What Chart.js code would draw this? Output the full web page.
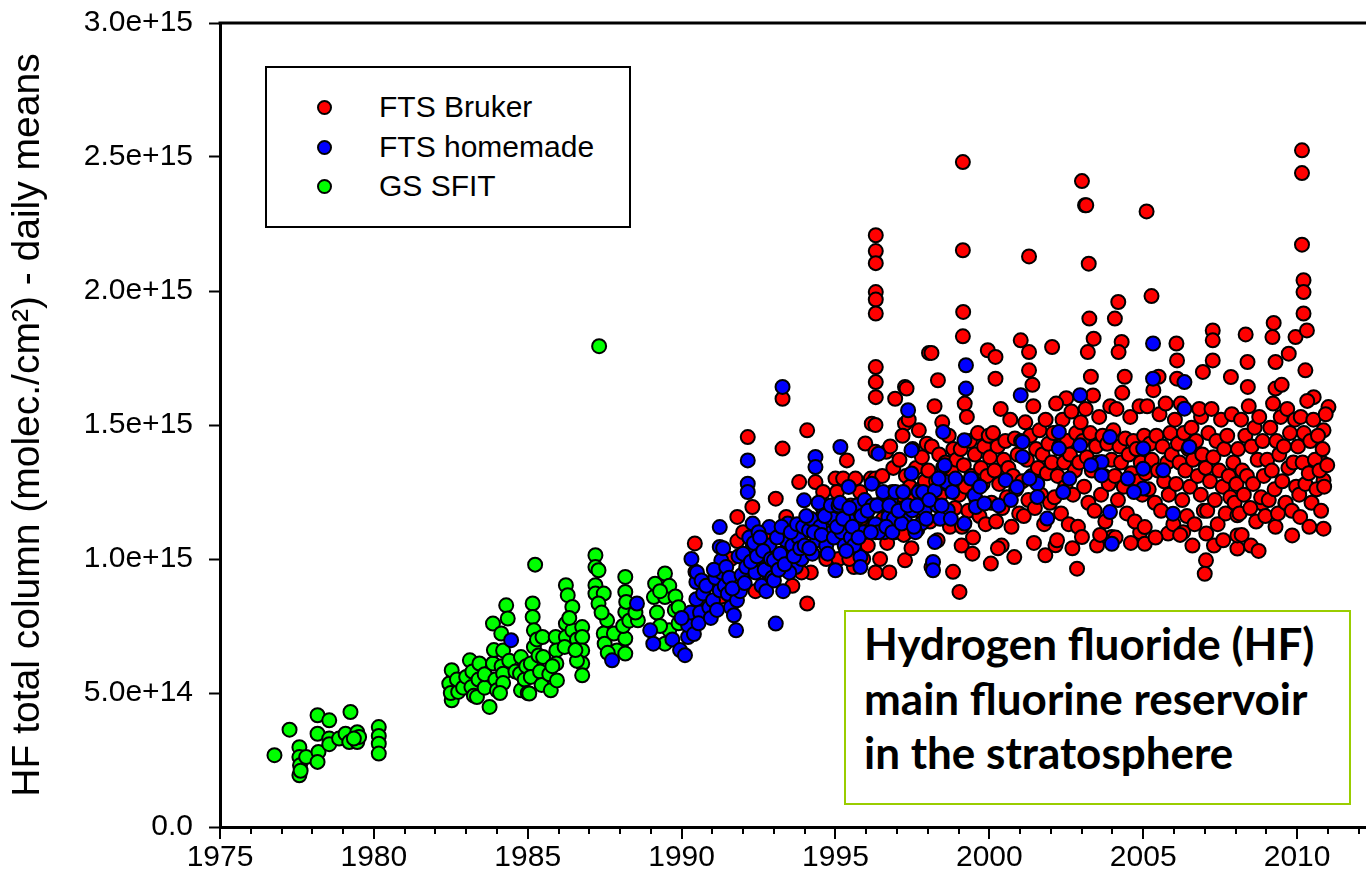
<!DOCTYPE html>
<html><head><meta charset="utf-8">
<script src="https://cdn.jsdelivr.net/npm/chart.js@4/dist/chart.umd.min.js"></script>
<style>
html,body{margin:0;padding:0;background:#fff;overflow:hidden;width:1366px;height:885px;}
#wrap{position:relative;width:1366px;height:885px;overflow:hidden;background:#fff;}
#chart{position:absolute;left:0;top:0;}
#legend{position:absolute;left:265px;top:66px;width:366px;height:162px;box-sizing:border-box;border:2px solid #000;background:#fff;font-family:"Liberation Sans",Arial,sans-serif;font-size:30px;color:#000;}
#legend .dot{position:absolute;width:11px;height:11px;border-radius:50%;border:2px solid #000;}
#legend .lbl{position:absolute;left:112px;line-height:32px;white-space:nowrap;}
#note{position:absolute;left:844px;top:610px;width:507px;height:195px;box-sizing:border-box;border:2px solid #9acd00;background:#fff;font-family:Lato,"Open Sans",sans-serif;font-weight:bold;font-size:44px;line-height:54.5px;padding:4px 0 0 18px;color:#000;white-space:nowrap;}
</style></head>
<body>
<div id="wrap">
<canvas id="chart" width="1383" height="885"></canvas>
<div id="legend"></div>
<div id="note">Hydrogen fluoride (HF)<br>main fluorine reservoir<br>in the stratosphere</div>
</div>
<script>
// ---- data: [decimal year, HF column in units of 1e15 molec/cm2] ----
const UNIT = 1e15;
const seriesNames = ['FTS Bruker', 'FTS homemade', 'GS SFIT'];
const seriesColors = ['#ff0000', '#0000ff', '#00ff00'];
const xTickYears = [1975, 1980, 1985, 1990, 1995, 2000, 2005, 2010];
const yTickValues = [0, 0.5, 1.0, 1.5, 2.0, 2.5, 3.0];

const gsSfit = [
[1976.77,0.268],[1977.26,0.363],[1977.58,0.298],[1977.58,0.261],[1977.6,0.23],[1977.58,0.193],[1977.62,0.21],[1977.8,0.261],
[1978.17,0.417],[1978.17,0.348],[1978.2,0.28],[1978.17,0.243],[1978.55,0.398],[1978.55,0.33],[1978.55,0.309],[1978.87,0.33],
[1979.08,0.348],[1979.24,0.429],[1979.2,0.317],[1979.46,0.354],[1979.46,0.317],[1979.52,0.336],[1979.35,0.33],
[1980.16,0.373],[1980.16,0.34],[1980.16,0.311],[1980.16,0.274],
[1982.45,0.535],[1982.53,0.585],[1982.53,0.473],[1982.5,0.5],[1982.74,0.504],[1982.7,0.55],[1982.9,0.52],[1983.0,0.56],
[1983.12,0.622],[1983.17,0.522],[1983.2,0.58],[1983.25,0.49],[1983.43,0.61],[1983.4,0.55],[1983.35,0.485],[1983.6,0.52],
[1983.6,0.57],[1983.76,0.448],[1983.87,0.759],[1983.87,0.61],[1983.9,0.66],[1983.95,0.55],[1984.0,0.51],[1984.3,0.827],
[1984.35,0.778],[1984.14,0.722],[1984.2,0.659],[1984.15,0.6],[1984.2,0.572],[1984.2,0.537],[1984.1,0.5],[1984.4,0.62],
[1984.6,0.58],[1984.78,0.634],[1984.75,0.572],[1984.78,0.51],[1984.9,0.55],[1984.95,0.6],[1985.0,0.5],
[1985.16,0.834],[1985.16,0.784],[1985.2,0.734],[1985.2,0.672],[1985.1,0.61],[1985.1,0.56],[1985.05,0.498],[1985.24,0.979],
[1985.3,0.7],[1985.35,0.64],[1985.48,0.709],[1985.5,0.634],[1985.4,0.58],[1985.45,0.53],[1985.75,0.51],[1985.7,0.57],
[1985.91,0.709],[1985.93,0.659],[1985.93,0.61],[1985.95,0.547],[1985.8,0.6],
[1986.24,0.902],[1986.3,0.865],[1986.45,0.821],[1986.24,0.759],[1986.24,0.709],[1986.2,0.672],[1986.45,0.734],[1986.35,0.78],
[1986.6,0.7],[1986.77,0.746],[1986.77,0.709],[1986.77,0.659],[1986.77,0.61],[1986.77,0.566],[1986.6,0.62],[1986.55,0.66],
[1987.2,1.014],[1987.2,0.97],[1987.3,0.958],[1987.2,0.902],[1987.2,0.871],[1987.47,0.871],[1987.3,0.834],[1987.58,0.771],
[1987.47,0.722],[1987.5,0.684],[1987.8,0.722],[1987.9,0.659],[1987.32,1.794],[1987.4,0.8],[1987.6,0.65],
[1988.17,0.933],[1988.17,0.877],[1988.17,0.802],[1988.17,0.703],[1988.17,0.647],[1988.1,0.75],[1988.2,0.84],[1988.3,0.77],
[1988.58,0.771],[1988.5,0.8],
[1989.14,0.908],[1989.46,0.946],[1989.1,0.858],[1989.46,0.858],[1989.78,0.809],[1989.46,0.684],[1989.6,0.734],[1989.2,0.8],
[1989.3,0.75],[1989.6,0.9],[1989.8,0.86],[1989.9,0.82],[1989.9,0.76],[1989.3,0.88]
];

const ftsHomemade = [
[1984.46,0.697],[1987.74,0.622],[1988.55,0.834],[1988.98,0.734],[1989.08,0.684],[1989.7,0.7],[1989.95,0.66],
[1990.11,0.641],[1990.21,0.709],[1990.21,0.753],[1990.32,1.0],[1990.48,0.914],[1990.48,0.85],[1990.7,0.871],[1990.3,0.8],
[1990.6,0.8],[1990.5,0.95],[1990.9,0.82],[1990.0,0.78],[1990.4,0.72],[1990.55,0.76],[1990.65,0.92],[1990.8,0.9],[1990.95,0.78],
[1991.02,0.846],[1991.24,0.883],[1991.29,0.995],[1991.24,1.045],[1991.24,1.119],[1991.1,0.93],[1991.3,0.95],[1991.4,0.9],
[1991.5,0.87],[1991.6,0.82],[1991.77,0.734],[1991.8,0.846],[1991.8,0.92],[1991.7,0.79],[1991.9,0.88],[1991.05,0.96],
[1991.15,0.81],[1991.35,1.04],[1991.45,0.97],[1991.55,0.93],[1991.65,0.89],[1991.85,1.01],[1991.95,0.94],
[1992.1,0.97],[1992.15,1.368],[1992.15,1.281],[1992.15,1.25],[1992.31,1.132],[1992.31,1.045],[1992.52,1.007],[1992.2,1.08],
[1992.4,0.95],[1992.6,0.9],[1992.7,0.96],[1992.85,1.119],[1992.85,1.05],[1992.0,1.02],[1992.5,1.1],[1992.05,0.91],[1992.25,0.99],
[1992.35,1.06],[1992.45,1.01],[1992.55,1.08],[1992.65,1.03],[1992.75,0.88],[1992.9,1.0],[1992.95,0.93],
[1993.0,0.995],[1993.0,0.92],[1993.06,0.759],[1993.28,1.642],[1993.39,1.07],[1993.45,1.132],[1993.71,0.97],[1993.2,1.02],
[1993.5,0.95],[1993.6,1.05],[1993.8,1.08],[1993.98,1.219],[1993.3,0.88],[1993.9,1.0],[1993.1,1.08],[1993.15,0.96],
[1993.25,1.12],[1993.35,0.98],[1993.55,1.1],[1993.65,1.01],[1993.75,1.13],[1993.85,1.04],[1993.95,1.12],
[1994.14,1.107],[1994.25,1.02],[1994.35,1.381],[1994.35,1.343],[1994.57,1.194],[1994.78,1.194],[1994.8,1.095],[1995.0,0.958],
[1994.2,1.15],[1994.4,1.07],[1994.5,1.12],[1994.7,1.05],[1994.9,1.15],[1994.0,1.05],[1994.05,1.16],[1994.15,1.04],
[1994.3,1.1],[1994.45,1.21],[1994.55,1.09],[1994.65,1.16],[1994.75,1.02],[1994.85,1.2],[1994.95,1.08],
[1995.16,1.418],[1995.43,1.269],[1995.65,1.144],[1995.81,1.007],[1995.81,0.97],[1995.2,1.1],[1995.3,1.05],[1995.4,1.15],
[1995.5,1.08],[1995.7,1.2],[1995.9,1.1],[1995.1,1.2],[1995.6,1.05],[1995.05,1.12],[1995.15,1.21],[1995.25,1.15],
[1995.35,1.03],[1995.45,1.19],[1995.55,1.12],[1995.75,1.08],[1995.85,1.16],[1995.95,1.22],
[1996.18,1.281],[1996.4,1.393],[1996.5,1.207],[1996.72,1.157],[1996.3,1.13],[1996.6,1.1],[1996.9,1.15],[1996.2,1.2],
[1996.8,1.22],[1996.4,1.1],[1996.05,1.18],[1996.15,1.1],[1996.35,1.2],[1996.55,1.25],[1996.65,1.12],[1996.75,1.2],
[1996.85,1.1],[1996.95,1.25],
[1997.26,1.144],[1997.47,1.406],[1997.47,1.319],[1997.36,1.555],[1997.79,1.132],[1997.15,1.132],[1997.5,1.182],[1997.9,1.182],
[1997.6,1.1],[1997.7,1.25],[1997.05,1.18],[1997.2,1.25],[1997.35,1.2],[1997.55,1.12],[1997.65,1.2],[1997.85,1.25],[1997.95,1.15],
[1998.5,1.474],[1998.5,1.343],[1998.6,1.287],[1998.23,1.256],[1998.3,1.2],[1998.23,1.063],[1998.17,0.989],[1998.17,0.958],
[1998.65,1.182],[1998.4,1.15],[1998.8,1.25],[1998.05,1.22],[1998.35,1.3],[1998.45,1.2],[1998.55,1.35],[1998.75,1.15],[1998.9,1.3],
[1999.24,1.723],[1999.24,1.636],[1999.19,1.132],[1999.19,1.443],[1999.52,1.238],[1999.56,1.194],[1999.84,1.207],[1999.4,1.3],[1999.7,1.27],
[2000.53,1.294],[2000.9,1.269],[2000.3,1.2],[2000.7,1.22],
[2001.02,1.611],[2001.08,1.381],[2001.08,1.437],[2001.56,1.281],[2001.56,1.231],[2001.88,1.151],[2001.3,1.3],
[2002.26,1.474],[2002.26,1.412],[2002.95,1.611],[2002.95,1.424],[2002.6,1.3],[2002.4,1.25],
[2003.92,1.455],[2003.65,1.362],[2003.65,1.312],[2003.92,1.175],[2003.98,1.057],[2003.3,1.35],
[2005.32,1.804],[2005.32,1.673],[2006.34,1.66],[2006.34,1.561],[2006.5,1.418],[2005.0,1.412],[2005.0,1.337],[2005.0,1.263],
[2005.65,1.331],[2005.97,1.169],[2004.5,1.3],[2004.7,1.25]
];

const ftsBruker = [
[1990.43,1.058],[1990.45,0.952],[1991.81,1.157],[1991.81,1.067],[1991.6,1.0],[1992.15,1.455],[1992.3,1.194],[1992.2,0.98],
[1992.6,1.05],[1992.8,0.95],[1993.28,1.598],[1993.28,1.412],[1993.06,1.225],[1993.4,1.157],[1993.5,1.0],[1993.7,1.1],
[1994.08,1.48],[1993.82,1.287],[1994.08,0.834],[1994.35,1.287],[1994.5,1.15],[1994.7,1.0],[1994.9,1.1],[1995.37,1.368],
[1995.97,1.431],[1996.18,1.505],[1995.5,1.2],[1995.6,0.97],[1995.8,1.25],[1995.3,1.1],[1995.1,1.0],[1995.9,1.0],[1996.0,1.15],
[1991.3,0.86],[1991.9,0.9],[1992.4,0.88],[1992.9,1.08],[1993.6,0.9],[1994.2,0.95],[1994.6,1.25],[1995.0,1.3],[1993.9,0.95],[1992.0,1.1],
[1995.05,1.25],[1995.25,1.3],[1995.45,1.0],[1995.65,1.3],[1995.85,1.15],[1996.05,1.05],[1996.15,1.3],[1996.45,1.0],
[1996.55,1.15],[1996.65,1.4],[1996.75,0.95],[1996.85,1.25],[1996.95,1.1],
[1996.31,2.208],[1996.31,2.149],[1996.31,2.104],[1996.31,1.996],[1996.31,1.968],[1996.31,1.916],[1996.31,1.716],[1996.31,1.66],
[1996.31,1.604],[1996.3,1.5],[1996.3,1.4],[1996.3,1.3],[1996.3,1.2],[1996.3,1.1],[1996.3,0.95],
[1996.52,1.31],[1996.58,1.24],[1996.68,1.06],[1996.78,1.42],[1996.88,1.34],[1996.97,1.19],
[1996.94,1.598],[1997.26,1.642],[1997.26,1.505],[1997.26,0.995],[1997.26,1.095],[1997.31,1.636],
[1997.03,1.13],[1997.08,1.37],[1997.12,1.24],[1997.18,1.46],[1997.22,1.09],[1997.29,1.31],[1997.33,1.18],[1997.38,1.52],
[1997.42,1.27],[1997.47,1.04],[1997.51,1.41],[1997.56,1.22],[1997.62,1.34],[1997.66,1.11],[1997.71,1.48],[1997.76,1.26],
[1997.81,1.38],[1997.86,1.16],[1997.91,1.29],[1997.97,1.43],
[1998.04,1.769],[1998.12,1.769],[1998.12,0.97],[1998.82,0.952],[1998.33,1.667],
[1998.02,1.33],[1998.07,1.14],[1998.13,1.42],[1998.18,1.21],[1998.22,1.57],[1998.27,1.29],[1998.32,1.07],[1998.37,1.39],
[1998.42,1.24],[1998.47,1.51],[1998.52,1.17],[1998.58,1.36],[1998.63,1.28],[1998.68,1.46],[1998.72,1.12],[1998.77,1.33],
[1998.83,1.41],[1998.88,1.19],[1998.93,1.37],[1998.98,1.26],
[1999.03,0.877],[1999.14,2.481],[1999.14,2.152],[1999.15,1.922],[1999.14,1.831],[1999.2,1.58],[1999.95,1.779],[1999.1,1.05],
[1999.02,1.24],[1999.07,1.41],[1999.11,1.12],[1999.17,1.35],[1999.22,1.27],[1999.27,1.53],[1999.32,1.18],[1999.37,1.44],
[1999.42,1.31],[1999.47,1.08],[1999.53,1.39],[1999.58,1.22],[1999.63,1.47],[1999.68,1.16],[1999.73,1.34],[1999.78,1.28],
[1999.83,1.42],[1999.88,1.13],[1999.93,1.31],[1999.98,1.46],[1999.45,1.02],
[2000.2,1.754],[2000.2,1.673],[2000.05,0.983],[2000.81,1.007],[2000.4,1.05],[2000.28,1.04],
[2000.02,1.38],[2000.07,1.21],[2000.12,1.47],[2000.17,1.33],[2000.22,1.14],[2000.27,1.42],[2000.32,1.28],[2000.37,1.56],
[2000.42,1.19],[2000.47,1.37],[2000.52,1.44],[2000.57,1.23],[2000.62,1.34],[2000.68,1.52],[2000.72,1.12],[2000.77,1.31],
[2000.83,1.45],[2000.87,1.26],[2000.92,1.39],[2000.97,1.17],
[2001.02,1.816],[2001.29,1.772],[2001.29,1.704],[2001.29,2.129],[2001.82,1.014],[2001.4,1.65],[2001.45,1.06],
[2001.03,1.44],[2001.07,1.29],[2001.12,1.16],[2001.17,1.51],[2001.22,1.37],[2001.27,1.22],[2001.33,1.46],[2001.38,1.31],
[2001.43,1.57],[2001.48,1.19],[2001.52,1.41],[2001.58,1.34],[2001.63,1.48],[2001.68,1.24],[2001.73,1.39],[2001.78,1.13],
[2001.83,1.52],[2001.87,1.32],[2001.92,1.43],[2001.97,1.21],
[2002.04,1.791],[2002.15,1.051],[2002.85,0.964],[2002.5,1.6],[2002.2,1.07],[2002.7,1.04],
[2002.03,1.36],[2002.08,1.47],[2002.12,1.23],[2002.17,1.58],[2002.22,1.31],[2002.28,1.42],[2002.33,1.17],[2002.38,1.52],
[2002.43,1.36],[2002.47,1.27],[2002.53,1.44],[2002.58,1.13],[2002.62,1.39],[2002.67,1.55],[2002.72,1.24],[2002.78,1.33],
[2002.82,1.47],[2002.88,1.12],[2002.92,1.36],[2002.97,1.51],
[2003.01,2.41],[2003.11,2.32],[2003.15,2.32],[2003.23,2.102],[2003.25,1.897],[2003.39,1.822],[2003.2,1.772],[2003.01,1.082],
[2003.98,1.082],[2003.5,1.05],[2003.3,1.68],[2003.6,1.09],
[2003.03,1.44],[2003.08,1.27],[2003.13,1.56],[2003.17,1.38],[2003.22,1.21],[2003.28,1.47],[2003.33,1.33],[2003.37,1.61],
[2003.42,1.18],[2003.47,1.42],[2003.52,1.36],[2003.57,1.53],[2003.63,1.24],[2003.68,1.46],[2003.73,1.31],[2003.77,1.14],
[2003.83,1.43],[2003.88,1.28],[2003.93,1.57],[2003.97,1.37],
[2004.19,1.959],[2004.08,1.897],[2004.3,1.81],[2004.2,1.772],[2004.9,1.1],[2004.4,1.68],[2004.1,1.08],[2004.6,1.06],
[2004.03,1.48],[2004.08,1.31],[2004.13,1.56],[2004.18,1.22],[2004.23,1.42],[2004.28,1.36],[2004.32,1.62],[2004.37,1.27],
[2004.42,1.45],[2004.47,1.17],[2004.53,1.39],[2004.58,1.53],[2004.62,1.32],[2004.68,1.44],[2004.73,1.14],[2004.78,1.41],
[2004.83,1.29],[2004.88,1.57],[2004.92,1.36],[2004.97,1.24],
[2005.11,2.297],[2005.27,1.981],[2005.05,1.057],[2005.05,1.119],[2005.81,1.095],[2005.5,1.68],[2005.4,1.08],
[2005.03,1.46],[2005.08,1.32],[2005.13,1.57],[2005.18,1.26],[2005.22,1.43],[2005.28,1.37],[2005.33,1.63],[2005.38,1.21],
[2005.43,1.46],[2005.48,1.33],[2005.53,1.54],[2005.58,1.18],[2005.63,1.42],[2005.68,1.29],[2005.73,1.58],[2005.78,1.36],
[2005.83,1.24],[2005.88,1.47],[2005.93,1.39],[2005.98,1.13],
[2006.08,1.804],[2006.1,1.741],[2006.1,1.673],[2006.88,1.53],[2006.94,1.698],[2006.3,1.1],[2006.2,1.09],[2006.6,1.05],
[2006.03,1.52],[2006.07,1.28],[2006.13,1.43],[2006.18,1.36],[2006.22,1.58],[2006.27,1.22],[2006.32,1.47],[2006.37,1.33],
[2006.42,1.16],[2006.47,1.41],[2006.52,1.27],[2006.57,1.49],[2006.62,1.37],[2006.67,1.13],[2006.72,1.44],[2006.77,1.31],
[2006.82,1.56],[2006.87,1.24],[2006.92,1.39],[2006.97,1.18],
[2007.26,1.853],[2007.26,1.816],[2007.26,1.741],[2007.04,0.995],[2007.0,0.945],[2007.05,1.095],[2007.85,1.679],[2007.3,1.05],[2007.6,1.07],
[2007.03,1.34],[2007.08,1.18],[2007.12,1.47],[2007.17,1.29],[2007.22,1.56],[2007.28,1.38],[2007.33,1.22],[2007.38,1.44],
[2007.42,1.13],[2007.47,1.33],[2007.53,1.52],[2007.58,1.27],[2007.63,1.41],[2007.68,1.17],[2007.73,1.46],[2007.78,1.31],
[2007.83,1.23],[2007.88,1.54],[2007.93,1.36],[2007.97,1.21],
[2008.06,1.039],[2008.06,1.088],[2008.06,1.163],[2008.33,1.838],[2008.39,1.735],[2008.4,1.642],[2008.87,1.207],[2008.5,1.05],
[2008.2,1.09],[2008.75,1.03],
[2008.03,1.28],[2008.08,1.41],[2008.13,1.17],[2008.18,1.52],[2008.22,1.33],[2008.27,1.24],[2008.32,1.46],[2008.37,1.31],
[2008.43,1.57],[2008.48,1.19],[2008.52,1.42],[2008.57,1.28],[2008.62,1.49],[2008.67,1.14],[2008.72,1.37],[2008.77,1.53],
[2008.83,1.23],[2008.88,1.44],[2008.92,1.31],[2008.97,1.16],
[2009.24,1.881],[2009.2,1.828],[2009.3,1.735],[2009.3,1.636],[2009.73,1.766],[2009.84,1.088],[2009.95,1.828],[2009.62,1.207],[2009.5,1.65],
[2009.3,1.12],
[2009.03,1.37],[2009.08,1.22],[2009.13,1.49],[2009.18,1.33],[2009.22,1.58],[2009.27,1.26],[2009.33,1.44],[2009.38,1.17],
[2009.42,1.39],[2009.47,1.53],[2009.52,1.29],[2009.57,1.42],[2009.63,1.21],[2009.68,1.56],[2009.72,1.34],[2009.77,1.47],
[2009.83,1.18],[2009.88,1.36],[2009.93,1.52],[2009.97,1.27],
[2010.16,2.525],[2010.16,2.44],[2010.16,2.173],[2010.21,2.04],[2010.21,1.996],[2010.21,1.916],[2010.32,1.853],[2010.27,1.704],
[2010.1,1.157],[2010.54,1.604],[2010.86,1.48],[2010.86,1.356],[2010.86,1.294],[2010.86,1.113],[2011.02,1.567],[2010.4,1.12],
[2010.03,1.42],[2010.07,1.24],[2010.12,1.53],[2010.18,1.36],[2010.22,1.47],[2010.27,1.28],[2010.33,1.59],[2010.38,1.32],
[2010.43,1.44],[2010.47,1.21],[2010.53,1.52],[2010.58,1.37],[2010.63,1.26],[2010.68,1.46],[2010.73,1.33],[2010.78,1.18],
[2010.83,1.41],[2010.88,1.27],[2010.93,1.54],[2010.98,1.35]
];

const seriesData = [ftsBruker, ftsHomemade, gsSfit];
const drawOrder = [1, 0, 2]; // homemade drawn on top

// ---- HTML legend ----
const legendEl = document.getElementById('legend');
const rowY = [41, 81, 120];
seriesNames.forEach((name, i) => {
  const d = document.createElement('div');
  d.className = 'dot';
  d.style.left = (59 - 2 - 7.5) + 'px';
  d.style.top = (rowY[i] - 2 - 7.5) + 'px';
  d.style.background = seriesColors[i];
  legendEl.appendChild(d);
  const t = document.createElement('div');
  t.className = 'lbl';
  t.style.top = (rowY[i] - 2 - 16) + 'px';
  t.textContent = name;
  legendEl.appendChild(t);
});

// ---- frame + minor ticks plugin ----
const framePlugin = {
  id: 'frame',
  afterDraw(chart) {
    const {ctx, chartArea, scales} = chart;
    const x = scales.x;
    ctx.save();
    ctx.strokeStyle = '#000';
    ctx.lineWidth = 3;
    ctx.beginPath();
    ctx.moveTo(chartArea.left - 1.5, chartArea.top);
    ctx.lineTo(chartArea.right, chartArea.top);
    ctx.stroke();
    ctx.lineWidth = 2;
    for (let yr = Math.ceil(x.min); yr <= x.max; yr++) {
      const px = Math.round(x.getPixelForValue(yr));
      const len = (yr % 5 === 0) ? 12 : 7;
      ctx.beginPath();
      ctx.moveTo(px, chartArea.bottom);
      ctx.lineTo(px, chartArea.bottom + len);
      ctx.stroke();
    }
    ctx.restore();
  }
};

const datasets = seriesNames.map((name, i) => ({
  label: name,
  data: seriesData[i].map(([yr, v]) => ({x: yr, y: v * UNIT})),
  backgroundColor: seriesColors[i],
  borderColor: '#000',
  borderWidth: 2,
  pointRadius: 7,
  pointHoverRadius: 7,
  order: drawOrder[i]
}));

new Chart(document.getElementById('chart'), {
  type: 'scatter',
  data: {datasets},
  plugins: [framePlugin],
  options: {
    responsive: false,
    animation: false,
    devicePixelRatio: 1,
    layout: {padding: {top: 23, left: 0, right: 0, bottom: 0}},
    plugins: {legend: {display: false}, tooltip: {enabled: false}},
    scales: {
      x: {
        type: 'linear',
        min: 1975, max: 2012.5,
        afterFit: (s) => { s.height = 58; s.paddingLeft = 0; s.paddingRight = 0; },
        afterBuildTicks: (s) => { s.ticks = xTickYears.map(v => ({value: v})); },
        ticks: {
          autoSkip: false, maxRotation: 0, padding: 13,
          color: '#000',
          font: {family: '"Liberation Sans", Arial, sans-serif', size: 30},
          callback: (v) => String(v)
        },
        grid: {display: true, drawOnChartArea: false, drawTicks: false},
        border: {display: true, color: '#000', width: 3}
      },
      y: {
        min: 0, max: 3 * UNIT,
        afterFit: (s) => { s.width = 220; s.paddingTop = 0; s.paddingBottom = 0; },
        afterBuildTicks: (s) => { s.ticks = yTickValues.map(v => ({value: v * UNIT})); },
        ticks: {
          padding: 16, color: '#000',
          font: {family: '"Liberation Sans", Arial, sans-serif', size: 30},
          callback: (v) => v === 0 ? '0.0' : Number(v).toExponential(1)
        },
        grid: {display: true, drawOnChartArea: false, drawTicks: true, tickLength: 11, tickColor: '#000', tickWidth: 2},
        border: {display: true, color: '#000', width: 3},
        title: {
          display: true,
          text: 'HF total column (molec./cm\u00B2) - daily means',
          color: '#000',
          font: {family: '"Liberation Sans", Arial, sans-serif', size: 39},
          padding: {top: 5, bottom: 0}
        }
      }
    }
  }
});
</script>
</body></html>
